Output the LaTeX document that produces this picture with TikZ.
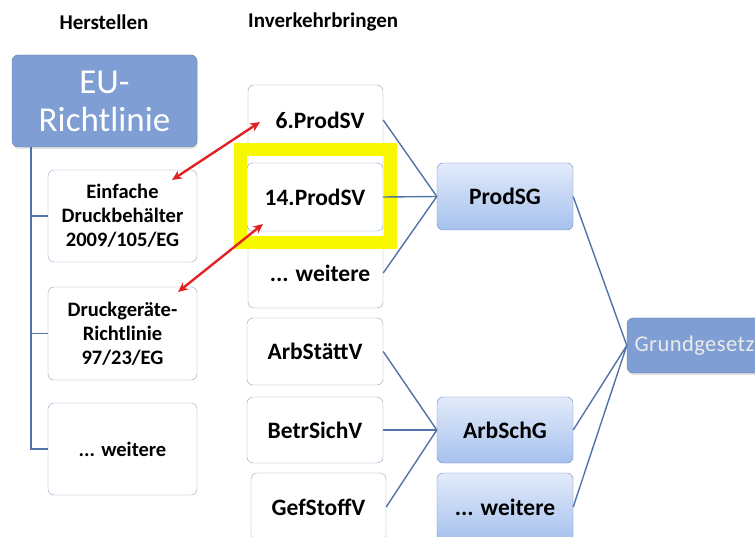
\documentclass[tikz,border=0pt]{standalone}
\usepackage{fontspec}
\setmainfont{Carlito}
\usepackage{xcolor}
\usetikzlibrary{arrows.meta,positioning,calc,shadows}

\definecolor{rahmen}{HTML}{8FA3BF}
\definecolor{stahl}{HTML}{7F9ED4}
\definecolor{hellblau}{HTML}{E2EBFA}
\definecolor{mittelblau}{HTML}{A6C1EE}
\definecolor{linie}{HTML}{5173A5}
\definecolor{gelb}{HTML}{F7F700}
\definecolor{rot}{HTML}{E22222}

\begin{document}
\begin{tikzpicture}[
    x=1pt, y=-1pt,
    wbox/.style={rectangle, draw=rahmen, fill=white, rounded corners=6pt, align=center, inner sep=0pt, font=\fontsize{23.5}{27}\selectfont\bfseries},
    lbox/.style={wbox, font=\fontsize{20.5}{24}\selectfont\bfseries},
    bbox/.style={rectangle, draw=rahmen!80!blue, top color=hellblau, bottom color=mittelblau, rounded corners=6pt, align=center, inner sep=0pt, font=\fontsize{23.5}{27}\selectfont\bfseries},
    sbox/.style={rectangle, draw=stahl!80!black, fill=stahl, rounded corners=6pt, align=center, inner sep=0pt, text=white, drop shadow={opacity=0.2, shadow xshift=1pt, shadow yshift=-2pt}},
    titel/.style={font=\fontsize{21}{24}\selectfont\bfseries, inner sep=0pt},
    lbl/.style={font=\fontsize{23.5}{27}\selectfont\bfseries, inner sep=0pt},
    verb/.style={draw=linie, line width=1.4pt},
    pfeil/.style={{Stealth[length=10pt,width=9pt]}-{Stealth[length=10pt,width=9pt]}, draw=rot, line width=2.4pt}
]
    \useasboundingbox (0,0) rectangle (755,537);
    \clip (0,0) rectangle (755,537);

    \node [titel] (herst) at (104,22) {Herstellen};
    \node [titel, anchor=west] (inverk) at (248,22) {Inverkehrbringen};

    \node [sbox, minimum width=185pt, minimum height=92pt, font=\fontsize{35}{38}\selectfont] (eu) at (104.5,101) {EU-\\Richtlinie};
    \node [lbox, minimum width=149pt, minimum height=92pt] (ebeh) at (122.5,216) {Einfache\\Druckbehälter\\2009/105/EG};
    \node [lbox, minimum width=149pt, minimum height=93pt] (dgrl) at (122.5,333.5) {Druckgeräte-\\Richtlinie\\97/23/EG};
    \node [lbox, minimum width=149pt, minimum height=92pt] (weiterel) at (122.5,449) {... weitere};

    \coordinate (stamm) at (31,147);
    \draw [verb] (stamm) |- (weiterel.west);
    \draw [verb] (stamm |- ebeh.west) -- (ebeh.west);
    \draw [verb] (stamm |- dgrl.west) -- (dgrl.west);

    \node [wbox, minimum width=135pt, minimum height=223pt] (gruppe) at (315.5,196.5) {};
    \node [lbl] (prodsv6) at (320,120) {6.ProdSV};
    \node [lbl] (weiterem) at (320,273) {... weitere};
    \node [wbox, minimum width=136pt, minimum height=68pt] (prodsv14) at (315,197) {14.ProdSV};
    \node [draw=gelb, line width=13pt, minimum width=150pt, minimum height=93pt, inner sep=0pt] (markierung) at (315,196.5) {};

    \node [wbox, minimum width=136pt, minimum height=67pt] (arbst) at (315,351.5) {ArbStättV};
    \node [wbox, minimum width=136pt, minimum height=66pt] (betr) at (315,430) {BetrSichV};
    \node [wbox, minimum width=135pt, minimum height=68pt] (gef) at (318.5,507) {GefStoffV};

    \node [bbox, minimum width=136pt, minimum height=67pt] (prodsg) at (505,196.5) {ProdSG};
    \node [bbox, minimum width=136pt, minimum height=66pt] (arbschg) at (505,430) {ArbSchG};
    \node [bbox, minimum width=136pt, minimum height=68pt] (weiterer) at (505,507) {... weitere};

    \node [sbox, minimum width=135pt, minimum height=55pt, font=\fontsize{22.5}{26}\selectfont\addfontfeature{LetterSpace=2}, text=white!92!black] (gg) at (694.5,345.5) {Grundgesetz};

    \draw [verb] (prodsv6 -| gruppe.east) -- (prodsg.west);
    \draw [verb] (prodsv14.east) -- (prodsg.west);
    \draw [verb] (weiterem -| gruppe.east) -- (prodsg.west);

    \draw [verb] (arbst.east) -- (arbschg.west);
    \draw [verb] (betr.east) -- (arbschg.west);
    \draw [verb] (gef.east) -- (arbschg.west);

    \draw [verb] (prodsg.east) -- (gg.west);
    \draw [verb] (arbschg.east) -- (gg.west);
    \draw [verb] (weiterer.east) -- (gg.west);

    \coordinate (ea) at (172,180);
    \coordinate (eb) at (260,122);
    \coordinate (da) at (178,292);
    \coordinate (db) at (263,224);
    \draw [pfeil] (ea) -- (eb);
    \draw [pfeil] (da) -- (db);
\end{tikzpicture}
\end{document}
